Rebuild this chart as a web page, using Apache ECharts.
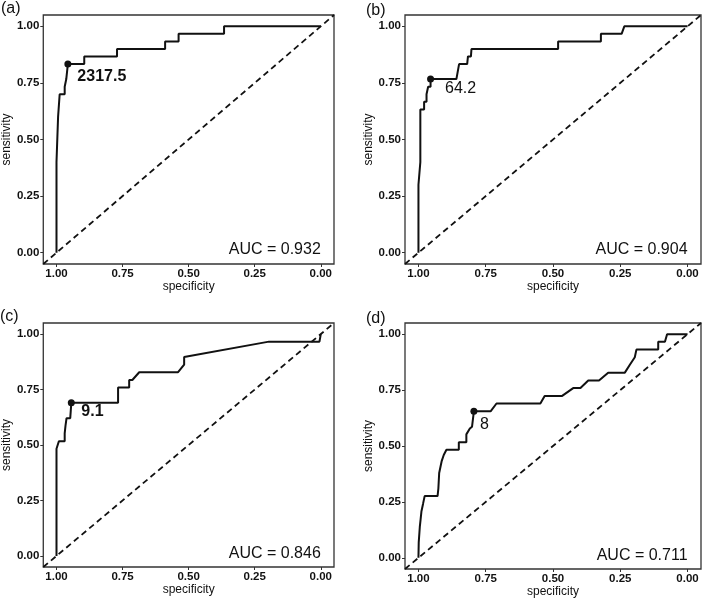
<!DOCTYPE html>
<html>
<head>
<meta charset="utf-8">
<script src="https://cdn.jsdelivr.net/npm/echarts@6/dist/echarts.min.js"></script>
<style>
  html, body { margin: 0; padding: 0; background: #fff; }
  #main { width: 702px; height: 599px; }
</style>
</head>
<body>
<div id="main"></div>
<script>
// ROC curves, [specificity, sensitivity]
const rocA = [[1, 0], [1, 0.4], [0.994, 0.4], [0.994, 0.6], [0.988, 0.6], [0.988, 0.7], [0.969, 0.7], [0.969, 0.733],
  [0.963, 0.733], [0.963, 0.767], [0.957, 0.767], [0.957, 0.833], [0.895, 0.833], [0.895, 0.867], [0.771, 0.867],
  [0.771, 0.9], [0.589, 0.9], [0.589, 0.933], [0.538, 0.933], [0.538, 0.967], [0.366, 0.967], [0.366, 1], [0, 1]];
const rocB = [[1, 0], [1, 0.3], [0.993, 0.4], [0.993, 0.633], [0.979, 0.633], [0.979, 0.667], [0.970, 0.667],
  [0.970, 0.7], [0.964, 0.7], [0.964, 0.733], [0.955, 0.733], [0.955, 0.767], [0.859, 0.767], [0.849, 0.833],
  [0.819, 0.833], [0.816, 0.867], [0.805, 0.867], [0.803, 0.9], [0.481, 0.9], [0.481, 0.933], [0.322, 0.933],
  [0.322, 0.967], [0.245, 0.967], [0.235, 1], [0, 1]];
const rocC = [[1, 0], [1, 0.483], [0.991, 0.517], [0.969, 0.517], [0.969, 0.552], [0.966, 0.586], [0.962, 0.586],
  [0.962, 0.621], [0.948, 0.621], [0.946, 0.655], [0.944, 0.690], [0.767, 0.690], [0.767, 0.759], [0.725, 0.759],
  [0.725, 0.793], [0.713, 0.793], [0.687, 0.828], [0.540, 0.828], [0.517, 0.862], [0.517, 0.897], [0.196, 0.966],
  [0.005, 0.966], [0, 1]];
const rocD = [[1, 0], [0.999, 0.069], [0.995, 0.138], [0.992, 0.172], [0.989, 0.207], [0.983, 0.241], [0.977, 0.276],
  [0.929, 0.276], [0.926, 0.310], [0.923, 0.379], [0.914, 0.431], [0.906, 0.460], [0.896, 0.483], [0.850, 0.483],
  [0.850, 0.517], [0.822, 0.517], [0.822, 0.552], [0.809, 0.578], [0.801, 0.586], [0.794, 0.586], [0.794, 0.655],
  [0.732, 0.655], [0.710, 0.690], [0.547, 0.690], [0.531, 0.724], [0.466, 0.724], [0.425, 0.759], [0.398, 0.759],
  [0.369, 0.793], [0.329, 0.793], [0.295, 0.828], [0.233, 0.828], [0.215, 0.862], [0.196, 0.897], [0.190, 0.931],
  [0.109, 0.931], [0.109, 0.966], [0.084, 0.966], [0.076, 1], [0, 1]];

const curves = [rocA, rocB, rocC, rocD];
const cutoffPoints = [[0.957, 0.833], [0.955, 0.767], [0.944, 0.690], [0.794, 0.655]];
const cutoffLabels = ['2317.5', '64.2', '9.1', '8'];
const aucValues = ['0.932', '0.904', '0.846', '0.711'];
const panelLabels = ['(a)', '(b)', '(c)', '(d)'];
const tickValues = [0, 0.25, 0.5, 0.75, 1];
const diagonal = [[1.05, -0.05], [-0.05, 1.05]];

// layout
const grids = [
  { left: 38, top: 15, width: 296, height: 249 },
  { left: 405, top: 15, width: 296, height: 249 },
  { left: 38, top: 323, width: 296, height: 244 },
  { left: 405, top: 323, width: 296, height: 246 }
];
const titlePos = [[1, 1], [366, 3], [0, 309], [366, 311]];
const labelOffsets = [[6, 12], [11, 10], [6.5, 9], [2.5, 13]];
const labelBold = [true, false, true, false];

const FONT = 'Liberation Sans, Arial, sans-serif';
const INK = '#111';

const axisCommon = () => ({
  axisLine: { show: false, onZero: false },
  axisTick: { show: true, length: 3, customValues: tickValues, lineStyle: { color: '#333', width: 1 } },
  axisLabel: { customValues: tickValues, margin: 4, fontSize: 11.5, fontWeight: 'bold', color: INK,
    formatter: v => v.toFixed(2) },
  splitLine: { show: false },
  nameTextStyle: { fontSize: 12, color: INK, fontFamily: FONT }
});

const option = {
  animation: false,
  backgroundColor: '#fff',
  textStyle: { fontFamily: FONT },
  title: panelLabels.map((t, i) => ({
    text: t, left: titlePos[i][0], top: titlePos[i][1], padding: 0,
    textStyle: { fontSize: 16, fontWeight: 'normal', color: INK, fontFamily: FONT }
  })),
  grid: grids.map(g => Object.assign({ show: true, borderColor: '#333', borderWidth: 1.3, containLabel: false }, g)),
  xAxis: grids.map((g, i) => Object.assign(axisCommon(), {
    type: 'value', gridIndex: i, min: -0.05, max: 1.05, inverse: true,
    name: 'specificity', nameLocation: 'middle', nameGap: 17
  })),
  yAxis: grids.map((g, i) => Object.assign(axisCommon(), {
    type: 'value', gridIndex: i, min: -0.05, max: 1.05,
    name: 'sensitivity', nameLocation: 'middle', nameGap: 25
  })),
  series: []
};

curves.forEach((curve, i) => {
  option.series.push({
    type: 'line', xAxisIndex: i, yAxisIndex: i, data: diagonal, showSymbol: false, silent: true, clip: true,
    lineStyle: { color: INK, width: 1.8, type: [6, 4] }, z: 2
  });
  option.series.push({
    type: 'line', xAxisIndex: i, yAxisIndex: i, data: curve, showSymbol: false, silent: true,
    lineStyle: { color: INK, width: 2 }, z: 3
  });
  option.series.push({
    type: 'scatter', xAxisIndex: i, yAxisIndex: i, data: [cutoffPoints[i]], symbolSize: 7, silent: true,
    itemStyle: { color: INK, opacity: 1 }, z: 4,
    label: {
      show: true, position: 'right', distance: 0, offset: labelOffsets[i],
      formatter: cutoffLabels[i], fontSize: 16, fontWeight: labelBold[i] ? 'bold' : 'normal',
      color: INK, opacity: 1, fontFamily: FONT
    }
  });
  option.series.push({
    type: 'scatter', xAxisIndex: i, yAxisIndex: i, data: [[0, 0.012]], symbolSize: 0, silent: true,
    itemStyle: { color: INK, opacity: 1 }, z: 4,
    label: {
      show: true, position: 'left', distance: 0, formatter: 'AUC = ' + aucValues[i],
      fontSize: 16, color: INK, opacity: 1, fontFamily: FONT
    }
  });
});

const myChart = echarts.init(document.getElementById('main'));
myChart.setOption(option);
</script>
</body>
</html>
